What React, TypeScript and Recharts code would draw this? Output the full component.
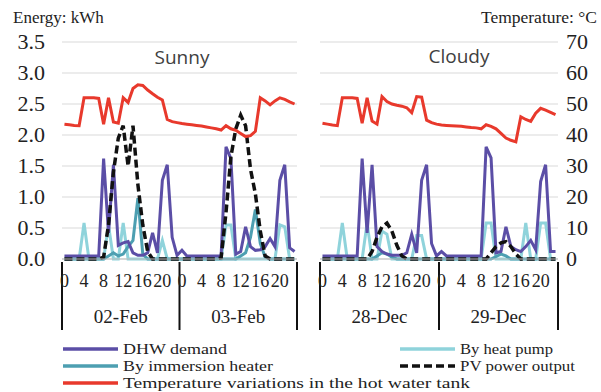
import React from 'react'
import { LineChart, Line, XAxis, YAxis, CartesianGrid } from 'recharts'

// hourly values, one array per day (index = hour 0..23)
const DAYS_SUNNY = ['02-Feb', '03-Feb']
const DAYS_CLOUDY = ['28-Dec', '29-Dec']

const DHW_02FEB = [0.05, 0.05, 0.05, 0.05, 0.05, 0.05, 0.05, 0.05, 1.62, 0.42, 1.52, 0.22, 0.26, 0.28, 0.1, 0.06, 0.06, 0.1, 0.42, 0.1, 1.27, 1.52, 0.35, 0.06]
const DHW_03FEB = [0.14, 0.05, 0.05, 0.05, 0.05, 0.05, 0.05, 0.05, 0.05, 1.81, 1.62, 0.08, 0.12, 0.52, 0.2, 0.14, 0.15, 0.2, 0.33, 0.2, 1.27, 1.52, 0.18, 0.12]
const DHW_28DEC = [0.05, 0.05, 0.05, 0.05, 0.05, 0.05, 0.05, 0.05, 1.62, 0.42, 1.52, 0.2, 0.12, 0.08, 0.06, 0.06, 0.06, 0.1, 0.4, 0.1, 1.27, 1.52, 0.25, 0.05]
const DHW_29DEC = [0.12, 0.05, 0.05, 0.05, 0.05, 0.05, 0.05, 0.05, 0.05, 1.81, 1.63, 0.1, 0.12, 0.52, 0.2, 0.15, 0.12, 0.2, 0.3, 0.15, 1.25, 1.52, 0.12, 0.12]

const HP_02FEB = [0, 0, 0, 0, 0.58, 0, 0, 0, 0, 0.55, 0, 0, 0.58, 0, 0, 0, 0, 0, 0, 0, 0.3, 0, 0, 0]
const HP_03FEB = [0, 0, 0, 0, 0, 0, 0, 0, 0, 0.55, 0.55, 0, 0, 0, 0, 0, 0, 0, 0, 0, 0.55, 0.52, 0, 0]
const HP_28DEC = [0, 0, 0, 0, 0.58, 0, 0, 0, 0, 0.58, 0, 0, 0.45, 0.4, 0, 0, 0, 0, 0, 0.38, 0.38, 0, 0, 0]
const HP_29DEC = [0, 0, 0, 0, 0, 0, 0, 0, 0, 0.58, 0.58, 0, 0, 0, 0, 0, 0, 0.58, 0, 0, 0.58, 0.58, 0, 0]

const IM_02FEB = [0, 0, 0, 0, 0, 0, 0, 0, 0, 0.05, 0.1, 0.05, 0.08, 0.2, 0.3, 0.98, 0.08, 0, 0, 0, 0, 0, 0, 0]
const IM_03FEB = [0, 0, 0, 0, 0, 0, 0, 0, 0, 0, 0, 0, 0.05, 0.1, 0.35, 0.8, 0.25, 0.03, 0, 0, 0, 0, 0, 0]
const IM_28DEC = [0, 0, 0, 0, 0, 0, 0, 0, 0, 0, 0, 0.05, 0.1, 0.08, 0.03, 0, 0, 0, 0, 0, 0, 0, 0, 0]
const IM_29DEC = [0, 0, 0, 0, 0, 0, 0, 0, 0, 0, 0, 0.04, 0.08, 0.05, 0, 0, 0, 0, 0, 0, 0, 0, 0, 0]

const PV_02FEB = [0, 0, 0, 0, 0, 0, 0, 0, 0.03, 0.55, 1.4, 1.95, 2.15, 1.5, 2.15, 1.2, 0.55, 0.12, 0, 0, 0, 0, 0, 0]
const PV_03FEB = [0, 0, 0, 0, 0, 0, 0, 0, 0.02, 0.75, 1.65, 2.1, 2.32, 2.15, 1.45, 1.05, 0.45, 0.05, 0, 0, 0, 0, 0, 0]
const PV_28DEC = [0, 0, 0, 0, 0, 0, 0, 0, 0, 0, 0.12, 0.35, 0.52, 0.58, 0.45, 0.22, 0.05, 0, 0, 0, 0, 0, 0, 0]
const PV_29DEC = [0, 0, 0, 0, 0, 0, 0, 0, 0, 0, 0.1, 0.2, 0.26, 0.28, 0.2, 0.08, 0, 0, 0, 0, 0, 0, 0, 0]

const T_02FEB = [43.5, 43.3, 43.1, 43, 52, 52, 52, 51.8, 43.5, 52, 44.2, 43.8, 52, 50.5, 55, 56.2, 56, 54.5, 53.3, 52.2, 51.3, 45, 44.3, 44]
const T_03FEB = [43.7, 43.5, 43.3, 43.1, 42.9, 42.6, 42.3, 42, 41.6, 43, 42, 41.5, 40.5, 39.5, 39.8, 41.2, 52, 51, 49.7, 51, 52, 51.5, 50.7, 50]
const T_28DEC = [43.8, 43.5, 43.2, 43, 52, 52, 52, 51.8, 43.8, 52, 44.5, 43.5, 52.4, 50.8, 50, 49.6, 49.3, 48.8, 47.2, 52.4, 52.2, 44.8, 44, 43.5]
const T_29DEC = [43.2, 43.1, 43, 42.9, 42.8, 42.6, 42.4, 42.3, 42, 43.3, 42.8, 42, 40.5, 39, 38.3, 37.8, 45.9, 45, 44.4, 47, 48.6, 48, 47.3, 46.6]

const ENERGY_TICKS = [0, 0.5, 1, 1.5, 2, 2.5, 3, 3.5]
const TEMP_TICKS = [0, 10, 20, 30, 40, 50, 60, 70]
// hour labels every 4h, day separators at -0.5 / 23.5 / 47.5, day names at 11.5 / 35.5
const X_TICKS = [-0.5, 0, 4, 8, 11.5, 12, 16, 20, 23.5, 24, 28, 32, 35.5, 36, 40, 44, 47.5]

const COLORS = {
  dhw: '#5b4ea6',
  hp: '#8fd3db',
  im: '#4d9fb1',
  pv: '#111111',
  temp: '#e8392c',
}

const SERIF: React.CSSProperties = { fontFamily: "'Liberation Serif', 'DejaVu Serif', serif" }
const SANS: React.CSSProperties = { fontFamily: "'Open Sans', 'Noto Sans', sans-serif" }

interface Row {
  h: number
  dhw: number
  hp: number
  im: number
  pv: number
  temp: number
}

function panelRows(dhw: number[], hp: number[], im: number[], pv: number[], temp: number[]): Row[] {
  return dhw.map((v, i) => ({ h: i, dhw: v, hp: hp[i], im: im[i], pv: pv[i], temp: temp[i] }))
}

const sunnyData = panelRows(
  [...DHW_02FEB, ...DHW_03FEB],
  [...HP_02FEB, ...HP_03FEB],
  [...IM_02FEB, ...IM_03FEB],
  [...PV_02FEB, ...PV_03FEB],
  [...T_02FEB, ...T_03FEB],
)

const cloudyData = panelRows(
  [...DHW_28DEC, ...DHW_29DEC],
  [...HP_28DEC, ...HP_29DEC],
  [...IM_28DEC, ...IM_29DEC],
  [...PV_28DEC, ...PV_29DEC],
  [...T_28DEC, ...T_29DEC],
)

function HourTick(props: any) {
  const { x, y, payload, days } = props
  const v: number = payload.value
  if ((v + 0.5) % 24 === 0) {
    return <line x1={x} x2={x} y1={y + 3} y2={y + 71} stroke="#111" strokeWidth={2} />
  }
  if (v % 24 === 11.5) {
    return (
      <text x={x} y={y + 64} textAnchor="middle" fontSize={19} style={SERIF} fill="#222">
        {days[Math.floor(v / 24)]}
      </text>
    )
  }
  return (
    <text x={x} y={y + 28} textAnchor="middle" fontSize={18} style={SERIF} fill="#222">
      {String(v % 24)}
    </text>
  )
}

function ValueTick(props: any) {
  const { x, y, payload, anchor, digits } = props
  return (
    <text x={x} y={y + 7} textAnchor={anchor} fontSize={22} style={SERIF} fill="#222">
      {payload.value.toFixed(digits)}
    </text>
  )
}

function Panel({ data, days, side }: { data: Row[]; days: string[]; side: 'left' | 'right' }) {
  const isLeft = side === 'left'
  return (
    <LineChart
      width={isLeft ? 300 : 301}
      height={340}
      data={data}
      margin={isLeft ? { top: 42, right: 3, left: 0, bottom: 0 } : { top: 42, right: 0, left: 20, bottom: 0 }}
    >
      <CartesianGrid yAxisId="e" horizontal vertical={false} stroke="#d9d9d9" />
      <XAxis
        dataKey="h"
        type="number"
        domain={[-0.5, 47.5]}
        ticks={X_TICKS}
        interval={0}
        height={81}
        tickSize={0}
        tickMargin={0}
        axisLine={{ stroke: '#bfbfbf' }}
        tick={(p: any) => <HourTick {...p} days={days} />}
      />
      <YAxis
        yAxisId="e"
        orientation="left"
        domain={[0, 3.5]}
        ticks={ENERGY_TICKS}
        interval={0}
        hide={!isLeft}
        width={62}
        axisLine={false}
        tickLine={false}
        tickSize={0}
        tickMargin={17}
        tick={(p: any) => <ValueTick {...p} anchor="end" digits={1} />}
      />
      <YAxis
        yAxisId="t"
        orientation="right"
        domain={[0, 70]}
        ticks={TEMP_TICKS}
        interval={0}
        hide={isLeft}
        width={43}
        axisLine={false}
        tickLine={false}
        tickSize={0}
        tickMargin={8}
        tick={(p: any) => <ValueTick {...p} anchor="start" digits={0} />}
      />
      <Line yAxisId="e" dataKey="hp" stroke={COLORS.hp} strokeWidth={3} dot={false} isAnimationActive={false} />
      <Line yAxisId="e" dataKey="im" stroke={COLORS.im} strokeWidth={3} dot={false} isAnimationActive={false} />
      <Line yAxisId="e" dataKey="dhw" stroke={COLORS.dhw} strokeWidth={3} dot={false} isAnimationActive={false} />
      <Line
        yAxisId="e"
        dataKey="pv"
        stroke={COLORS.pv}
        strokeWidth={3.5}
        strokeDasharray="8 4"
        dot={false}
        isAnimationActive={false}
      />
      <Line yAxisId="t" dataKey="temp" stroke={COLORS.temp} strokeWidth={3} dot={false} isAnimationActive={false} />
    </LineChart>
  )
}

function LegendItem({ x, y, color, label, width, dashed }: { x: number; y: number; color: string; label: string; width: number; dashed?: boolean }) {
  return (
    <g>
      <line
        x1={x}
        x2={x + 55}
        y1={y}
        y2={y}
        stroke={color}
        strokeWidth={3.5}
        strokeDasharray={dashed ? '8 4' : undefined}
      />
      <text
        x={x + 60}
        y={y + 5}
        fontSize={14.5}
        style={SERIF}
        fill="#222"
        textLength={width}
        lengthAdjust="spacingAndGlyphs"
      >
        {label}
      </text>
    </g>
  )
}

export default function App() {
  return (
    <div style={{ position: 'absolute', left: 0, top: 0, width: 601, height: 392, background: '#fff', overflow: 'hidden' }}>
      <div style={{ position: 'absolute', left: 0, top: 0 }}>
        <Panel data={sunnyData} days={DAYS_SUNNY} side="left" />
      </div>
      <div style={{ position: 'absolute', left: 300, top: 0 }}>
        <Panel data={cloudyData} days={DAYS_CLOUDY} side="right" />
      </div>
      <svg width={601} height={392} style={{ position: 'absolute', left: 0, top: 0, pointerEvents: 'none' }}>
        <text x={13} y={23} fontSize={17} style={SERIF} fill="#222">
          Energy: kWh
        </text>
        <text x={597} y={23} textAnchor="end" fontSize={17.5} style={SERIF} fill="#222">
          Temperature: °C
        </text>
        <text x={182} y={64} textAnchor="middle" fontSize={19} style={SANS} fill="#404040">
          Sunny
        </text>
        <text x={459} y={63} textAnchor="middle" fontSize={19} style={SANS} fill="#404040">
          Cloudy
        </text>
        <LegendItem x={63} y={349} color={COLORS.dhw} label="DHW demand" width={104} />
        <LegendItem x={400} y={349} color={COLORS.hp} label="By heat pump" width={93} />
        <LegendItem x={63} y={366} color={COLORS.im} label="By immersion heater" width={150} />
        <LegendItem x={400} y={366} color={COLORS.pv} label="PV power output" width={115} dashed />
        <LegendItem x={63} y={383} color={COLORS.temp} label="Temperature variations in the hot water tank" width={347} />
      </svg>
    </div>
  )
}
